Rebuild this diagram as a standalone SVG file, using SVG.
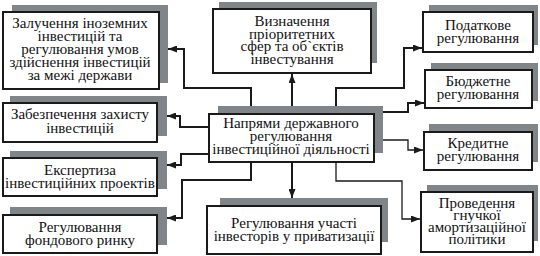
<svg xmlns="http://www.w3.org/2000/svg" width="540" height="256" viewBox="0 0 540 256">
<style>
.sh{fill:#7f8588;stroke:none}
.bx{fill:#fff;stroke:#1a1a1a;stroke-width:2}
text{font-family:'Liberation Serif','Times New Roman',serif;font-size:15px;fill:#111;text-anchor:middle}
.c{fill:none;stroke:#1a1a1a;stroke-width:2;marker-end:url(#ah)}
.c1{fill:none;stroke:#1a1a1a;stroke-width:1.3;marker-end:url(#ah)}
</style>
<defs>
<marker id="ah" markerUnits="userSpaceOnUse" markerWidth="9" markerHeight="7" refX="9" refY="3.5" orient="auto">
<path d="M0,0 L9,3.5 L0,7 z" fill="#1a1a1a"/>
</marker>
</defs>
<rect width="540" height="256" fill="#fff"/>
<g id="connectors">
<path class="c" d="M251,114 V88 H184 V49 H168"/>
<path class="c" d="M292,114 V74"/>
<path class="c" d="M336,114 V88 H404 V48 H422"/>
<path class="c" d="M374,112 H408 V103 H424"/>
<path class="c1" d="M374,140 H408 V150 H423"/>
<path class="c1" d="M336,162 V181 H402 V219 H420"/>
<path class="c" d="M292,162 V198"/>
<path class="c" d="M251,162 V180 H182 V218 H167"/>
<path class="c" d="M209,154 H181 V165 H167"/>
<path class="c" d="M209,127 H180 V116 H167"/>
</g>
<g id="n-foreign">
<rect class="sh" x="12" y="5" width="156" height="78"/>
<rect class="bx" x="3" y="12" width="156" height="77"/>
<text x="80" y="28">Залучення іноземних</text>
<text x="80" y="41">інвестицій та</text>
<text x="80" y="54">регулювання умов</text>
<text x="80" y="67">здійснення інвестицій</text>
<text x="80" y="80">за межі держави</text>
</g>
<g id="n-priority">
<rect class="sh" x="219" y="2" width="158" height="61"/>
<rect class="bx" x="213" y="9" width="158" height="64"/>
<text x="292" y="26">Визначення</text>
<text x="292" y="38.5">пріоритетних</text>
<text x="292" y="51">сфер та об`єктів</text>
<text x="292" y="63.5">інвестування</text>
</g>
<g id="n-tax">
<rect class="sh" x="429" y="5" width="109" height="40"/>
<rect class="bx" x="423" y="12" width="110" height="40"/>
<text x="478" y="30">Податкове</text>
<text x="478" y="43">регулювання</text>
</g>
<g id="n-budget">
<rect class="sh" x="431" y="63" width="107" height="38"/>
<rect class="bx" x="425" y="70" width="107" height="38"/>
<text x="478" y="86">Бюджетне</text>
<text x="478" y="99">регулювання</text>
</g>
<g id="n-credit">
<rect class="sh" x="429" y="124" width="109" height="38"/>
<rect class="bx" x="424" y="132" width="108" height="38"/>
<text x="478" y="148">Кредитне</text>
<text x="478" y="161">регулювання</text>
</g>
<g id="n-amort">
<rect class="sh" x="427" y="185" width="111" height="56"/>
<rect class="bx" x="421" y="192" width="112" height="60"/>
<text x="477" y="208">Проведення</text>
<text x="477" y="220">гнучкої</text>
<text x="477" y="232">амортизаційної</text>
<text x="477" y="244">політики</text>
</g>
<g id="n-center">
<rect class="sh" x="218" y="106" width="165" height="47"/>
<rect class="bx" x="209" y="114" width="165" height="48"/>
<text x="291" y="128">Напрями державного</text>
<text x="291" y="141">регулювання</text>
<text x="291" y="154">інвестиційної діяльності</text>
</g>
<g id="n-privat">
<rect class="sh" x="220" y="198" width="168" height="44"/>
<rect class="bx" x="207" y="206" width="174" height="48"/>
<text x="294" y="228">Регулювання участі</text>
<text x="294" y="241">інвесторів у приватизації</text>
</g>
<g id="n-protect">
<rect class="sh" x="10" y="96" width="157" height="40"/>
<rect class="bx" x="3" y="103" width="154" height="39"/>
<text x="80" y="119">Забезпечення захисту</text>
<text x="80" y="133">інвестицій</text>
</g>
<g id="n-expert">
<rect class="sh" x="10" y="151" width="157" height="38"/>
<rect class="bx" x="3" y="158" width="154" height="38"/>
<text x="80" y="175">Експертиза</text>
<text x="80" y="188">інвестиційних проектів</text>
</g>
<g id="n-stock">
<rect class="sh" x="10" y="207" width="157" height="38"/>
<rect class="bx" x="3" y="215" width="154" height="38"/>
<text x="80" y="232">Регулювання</text>
<text x="80" y="245">фондового ринку</text>
</g>
</svg>
